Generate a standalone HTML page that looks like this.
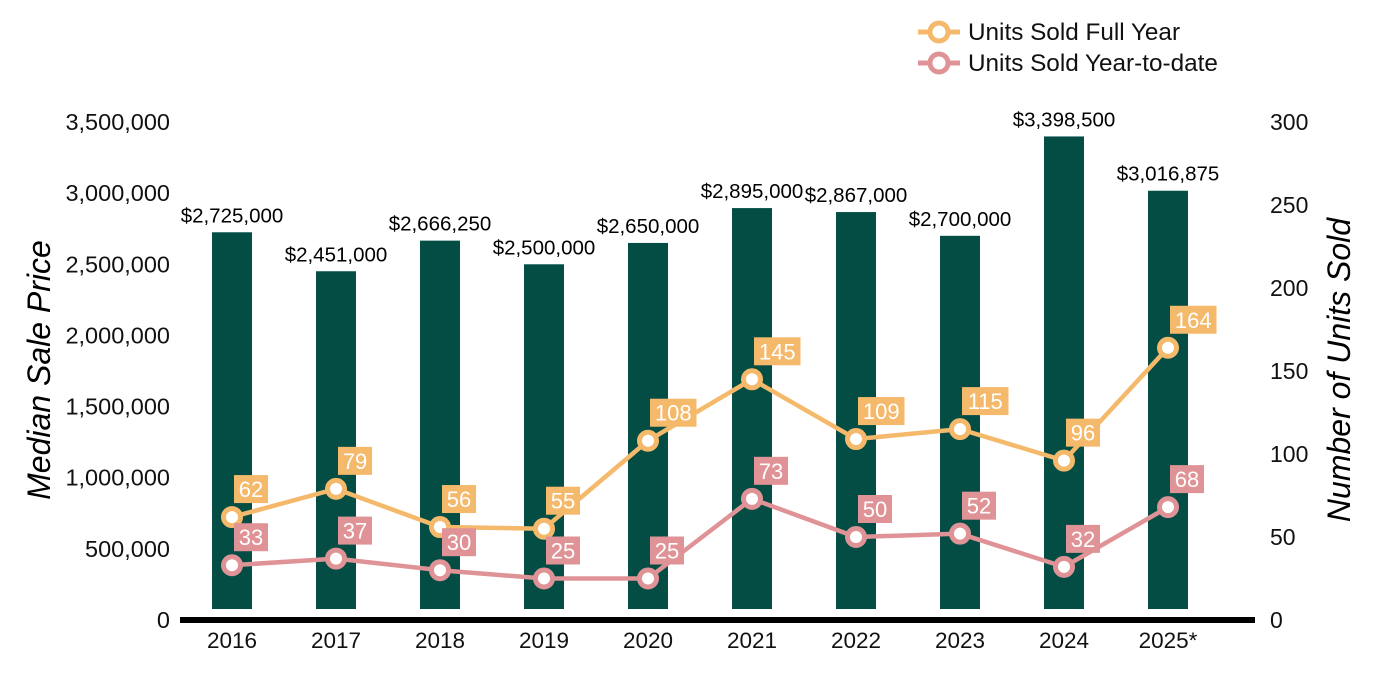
<!DOCTYPE html>
<html><head><meta charset="utf-8"><style>
body{margin:0;background:#fff;}
svg{display:block;font-family:"Liberation Sans",Arial,sans-serif;}
</style></head><body>
<svg id="chart" width="1400" height="700">
<g id="legend">
  <g>
    <line x1="918" y1="32" x2="960" y2="32" stroke="#F5B96B" stroke-width="5"/>
    <circle cx="939" cy="32" r="9" fill="#fff" stroke="#F5B96B" stroke-width="5"/>
    <text x="968" y="40" font-size="24.3" fill="#111">Units Sold Full Year</text>
  </g>
  <g>
    <line x1="918" y1="63" x2="960" y2="63" stroke="#E09396" stroke-width="5"/>
    <circle cx="939" cy="63" r="9" fill="#fff" stroke="#E09396" stroke-width="5"/>
    <text x="968" y="71" font-size="24.3" fill="#111">Units Sold Year-to-date</text>
  </g>
</g>
<text transform="translate(50,370) rotate(-90)" text-anchor="middle" font-size="32" font-style="italic" fill="#000">Median Sale Price</text>
<text transform="translate(1350,370) rotate(-90)" text-anchor="middle" font-size="32" font-style="italic" fill="#000">Number of Units Sold</text>
<g id="ticksL"></g><g id="ticksR"></g><g id="bars"></g><g id="xlabels"></g>
<rect x="180" y="617" width="1075" height="6" fill="#000"/>
<g id="lines"></g>
</svg>
<script>
const categories=["2016","2017","2018","2019","2020","2021","2022","2023","2024","2025*"];
const prices=[2725000,2451000,2666250,2500000,2650000,2895000,2867000,2700000,3398500,3016875];
const priceLabels=["$2,725,000","$2,451,000","$2,666,250","$2,500,000","$2,650,000","$2,895,000","$2,867,000","$2,700,000","$3,398,500","$3,016,875"];
const fullYear=[62,79,56,55,108,145,109,115,96,164];
const ytd=[33,37,30,25,25,73,50,52,32,68];
const leftTicks=[0,500000,1000000,1500000,2000000,2500000,3000000,3500000];
const rightTicks=[0,50,100,150,200,250,300];
const NS="http://www.w3.org/2000/svg";
const y0=620,yTop=122;
const yL=v=>y0-(v/3500000)*(y0-yTop);
const yR=v=>y0-(v/300)*(y0-yTop);
const x=i=>232+i*104;
function mk(tag,attrs,parent,text){const e=document.createElementNS(NS,tag);for(const k in attrs)e.setAttribute(k,attrs[k]);if(text!=null)e.textContent=text;parent.appendChild(e);return e;}
const tL=document.getElementById('ticksL'),tR=document.getElementById('ticksR');
leftTicks.forEach(v=>{const t=mk('text',{x:170,y:yL(v)+8,'text-anchor':'end','font-size':23.5,fill:'#111'},tL,v.toLocaleString('en-US'));

});
rightTicks.forEach(v=>{const t=mk('text',{x:1270,y:yR(v)+8,'font-size':23,fill:'#111'},tR,String(v));

});
const bars=document.getElementById('bars'),xl=document.getElementById('xlabels');
prices.forEach((p,i)=>{
 const b=mk('rect',{x:x(i)-20,y:yL(p),width:40,height:609-yL(p),fill:'#034D45'},bars);
 
 
 const l=mk('text',{x:x(i),y:yL(p)-10,'text-anchor':'middle','font-size':20.5,fill:'#000'},bars,priceLabels[i]);
 
 
 const c=mk('text',{x:x(i),y:648,'text-anchor':'middle','font-size':22.5,fill:'#111'},xl,categories[i]);
 
 
});
const lg=document.getElementById('lines');
function series(vals,color,name){
 const pl=mk('polyline',{points:vals.map((v,i)=>x(i)+','+yR(v)).join(' '),fill:'none',stroke:color,'stroke-width':4.5,'stroke-linejoin':'round'},lg);
 
 
 vals.forEach((v,i)=>{
  const c=mk('circle',{cx:x(i),cy:yR(v),r:8.5,fill:'#fff',stroke:color,'stroke-width':5},lg);
  
  
  const s=String(v),w=s.length*12.5+9;
  const r=mk('rect',{x:x(i)+2,y:yR(v)-42,width:w,height:28,fill:color},lg);
  
  
  const t=mk('text',{x:x(i)+2+w/2,y:yR(v)-20,'text-anchor':'middle','font-size':22,fill:'#fff'},lg,s);
  
  
 });
}
series(fullYear,'#F5B96B','full-year');
series(ytd,'#E09396','ytd');
</script>
</body></html>
